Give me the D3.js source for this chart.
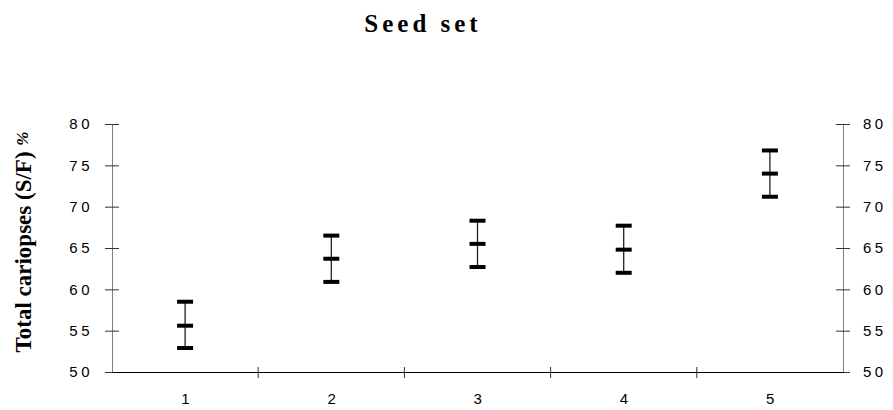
<!DOCTYPE html>
<head>
    <meta charset="utf-8">
    <style>
        body { margin: 0; background: #fff; }
        .axis path { stroke: #808080; }
        .axis line { stroke: #333; }
        .title { font-family: "Liberation Serif", "Times New Roman", serif; font-weight: bold; font-size: 25px; letter-spacing: 4px; }
        .ylabel { font-family: "Liberation Serif", "Times New Roman", serif; font-weight: bold; font-size: 23px; }
    </style>
</head>
<svg width="893" height="410" class="chart"></svg>
<script src="https://cdn.jsdelivr.net/npm/d3@7"></script>
<script>
    const categories = ["1", "2", "3", "4", "5"];
    const means = [55.6, 63.7, 65.5, 64.8, 74.0];
    const lower = [52.9, 60.9, 62.7, 62.0, 71.2];
    const upper = [58.5, 66.5, 68.3, 67.7, 76.8];
    const yTicks = [50, 55, 60, 65, 70, 75, 80];

    var svg = d3.select(".chart"),
        plotLeft = 112, plotRight = 843, plotTop = 124, plotBottom = 372;

    var x = d3.scaleBand().domain(categories).range([plotLeft, plotRight]).padding(0),
        y = d3.scaleLinear().domain([50, 80]).range([plotBottom, plotTop]);

    function numStyle(sel) {
        sel.selectAll("text")
            .attr("font-family", "'Liberation Sans', Arial, sans-serif")
            .attr("font-size", "15px")
            .attr("letter-spacing", "3.5px")
            .attr("fill", "#000");
    }

    // title
    svg.append("text")
        .attr("class", "title")
        .attr("x", 423)
        .attr("y", 32)
        .attr("text-anchor", "middle")
        .text("Seed set");

    // y label
    var yl = svg.append("text")
        .attr("class", "ylabel")
        .attr("transform", "translate(31,242) rotate(-90)")
        .attr("text-anchor", "middle");
    yl.append("tspan").text("Total cariopses (S/F) ");
    yl.append("tspan").attr("font-size", "17px").attr("font-style", "italic").attr("dy", "-3").text("%");

    // left axis
    var gl = svg.append("g")
        .attr("class", "axis")
        .attr("transform", "translate(" + plotLeft + ",0)")
        .call(d3.axisLeft(y).tickValues(yTicks).tickSize(7).tickSizeOuter(0).tickPadding(12));
    gl.selectAll(".tick line").attr("x1", -7).attr("x2", 7);
    numStyle(gl);

    // right axis
    var gr = svg.append("g")
        .attr("class", "axis")
        .attr("transform", "translate(" + plotRight + ",0)")
        .call(d3.axisRight(y).tickValues(yTicks).tickSize(7).tickSizeOuter(0).tickPadding(13));
    gr.selectAll(".tick line").attr("x1", -7).attr("x2", 7);
    numStyle(gr);

    // x axis
    var gx = svg.append("g")
        .attr("transform", "translate(0," + plotBottom + ")")
        .call(d3.axisBottom(x).tickSize(0).tickSizeOuter(0).tickPadding(21));
    gx.select(".domain").attr("stroke", "#000");
    numStyle(gx);
    gx.selectAll(".tick text").attr("dx", "2px");

    gx.selectAll(".sep")
        .data(categories.slice(1))
        .enter().append("line")
        .attr("class", "sep")
        .attr("x1", function(d) { return x(d); })
        .attr("x2", function(d) { return x(d); })
        .attr("y1", -5)
        .attr("y2", 6)
        .attr("stroke", "#333");

    // error bars
    var cx = function(i) { return x(categories[i]) + x.bandwidth() / 2; };
    var eb = svg.append("g").selectAll("g")
        .data(means)
        .enter().append("g");

    eb.append("line")
        .attr("x1", function(d, i) { return cx(i); })
        .attr("x2", function(d, i) { return cx(i); })
        .attr("y1", function(d, i) { return y(upper[i]); })
        .attr("y2", function(d, i) { return y(lower[i]); })
        .attr("stroke", "#222")
        .attr("stroke-width", 1.3);

    [upper, means, lower].forEach(function(arr) {
        eb.append("line")
            .attr("x1", function(d, i) { return cx(i) - 8; })
            .attr("x2", function(d, i) { return cx(i) + 8; })
            .attr("y1", function(d, i) { return y(arr[i]); })
            .attr("y2", function(d, i) { return y(arr[i]); })
            .attr("stroke", "#000")
            .attr("stroke-width", 4);
    });
</script>
